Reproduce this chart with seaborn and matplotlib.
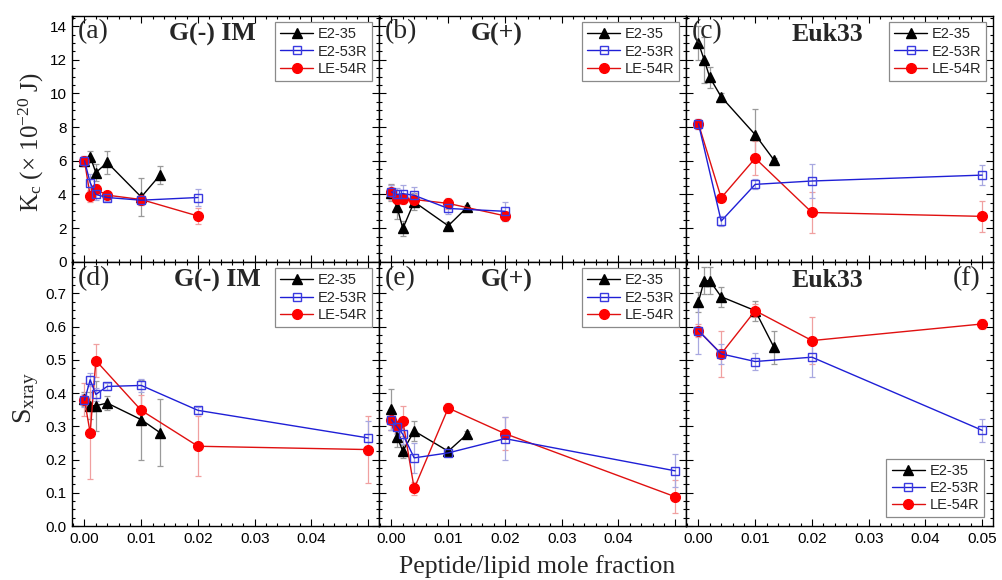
import numpy as np
import matplotlib
matplotlib.use("Agg")
import matplotlib.pyplot as plt
from matplotlib.ticker import MultipleLocator, FuncFormatter
import seaborn as sns

# ---------------- data ----------------
series_names = ["E2-35", "E2-53R", "LE-54R"]
panel_letters = ["(a)", "(b)", "(c)", "(d)", "(e)", "(f)"]
panel_titles = ["G(-) IM", "G(+)", "Euk33", "G(-) IM", "G(+)", "Euk33"]

# peptide/lipid mole fractions
x_e235 = [0.0, 0.001, 0.002, 0.004, 0.010, 0.0133]
x_full = [0.0, 0.001, 0.002, 0.004, 0.010, 0.020]
x_full50 = [0.0, 0.001, 0.002, 0.004, 0.010, 0.020, 0.050]
x_short = [0.0, 0.004, 0.010, 0.020, 0.050]
x_gneg_le = [0.0, 0.001, 0.002, 0.010, 0.020, 0.050]

# bending modulus Kc (x 1e-20 J)
kc_gneg_e235 = [6.0, 6.25, 5.3, 5.9, 3.85, 5.15]
kc_gneg_e235_err = [0.2, 0.35, 0.5, 0.7, 1.1, 0.55]
kc_gneg_e253 = [6.0, 4.7, 4.0, 3.82, 3.66, 3.82]
kc_gneg_e253_err = [0.3, 0.5, 0.3, 0.2, 0.3, 0.5]
kc_gneg_le54 = [6.0, 3.9, 4.3, 3.96, 3.7, 2.72]
kc_gneg_le54_err = [0.3, 0.35, 0.3, 0.2, 0.3, 0.5]

kc_gpos_e235 = [4.1, 3.23, 1.98, 3.56, 2.14, 3.23]
kc_gpos_e235_err = [0.5, 0.7, 0.45, 0.5, 0.25, 0.15]
kc_gpos_e253 = [4.15, 4.0, 4.05, 3.95, 3.17, 3.0]
kc_gpos_e253_err = [0.4, 0.4, 0.5, 0.5, 0.3, 0.55]
kc_gpos_le54 = [4.12, 3.72, 3.72, 3.7, 3.47, 2.73]
kc_gpos_le54_err = [0.45, 0.3, 0.3, 0.3, 0.35, 0.3]

kc_euk_e235 = [13.0, 12.0, 10.95, 9.8, 7.55, 6.05]
kc_euk_e235_err = [1.0, 1.35, 0.65, 0.2, 1.55, 0.1]
kc_euk_e253 = [8.2, 2.42, 4.6, 4.8, 5.15]
kc_euk_e253_err = [0.3, 0.3, 0.3, 1.0, 0.6]
kc_euk_le54 = [8.2, 3.8, 6.15, 2.93, 2.7]
kc_euk_le54_err = [0.3, 0.25, 1.0, 1.2, 0.9]

# chain order parameter S_xray
s_gneg_e235 = [0.382, 0.362, 0.362, 0.370, 0.320, 0.281]
s_gneg_e235_err = [0.02, 0.04, 0.075, 0.02, 0.12, 0.10]
s_gneg_e253 = [0.378, 0.44, 0.396, 0.42, 0.423, 0.348, 0.265]
s_gneg_e253_err = [0.02, 0.02, 0.02, 0.01, 0.02, 0.01, 0.05]
s_gneg_le54 = [0.38, 0.28, 0.498, 0.348, 0.24, 0.23]
s_gneg_le54_err = [0.05, 0.14, 0.05, 0.045, 0.09, 0.10]

s_gpos_e235 = [0.351, 0.268, 0.225, 0.286, 0.225, 0.276]
s_gpos_e235_err = [0.062, 0.03, 0.02, 0.03, 0.01, 0.01]
s_gpos_e253 = [0.32, 0.298, 0.276, 0.205, 0.22, 0.263, 0.166]
s_gpos_e253_err = [0.03, 0.02, 0.03, 0.045, 0.01, 0.065, 0.05]
s_gpos_le54 = [0.32, 0.30, 0.316, 0.113, 0.355, 0.278, 0.088]
s_gpos_le54_err = [0.03, 0.02, 0.045, 0.02, 0.015, 0.05, 0.05]

s_euk_e235 = [0.675, 0.738, 0.738, 0.69, 0.648, 0.538]
s_euk_e235_err = [0.03, 0.04, 0.04, 0.03, 0.03, 0.05]
s_euk_e253 = [0.588, 0.518, 0.495, 0.508, 0.288]
s_euk_e253_err = [0.07, 0.03, 0.025, 0.06, 0.035]
s_euk_le54 = [0.588, 0.518, 0.648, 0.558, 0.608]
s_euk_le54_err = [0.02, 0.07, 0.02, 0.07, 0.015]

# (x, y, err) per series for each panel, in series_names order
panels = [
    [(x_e235, kc_gneg_e235, kc_gneg_e235_err), (x_full, kc_gneg_e253, kc_gneg_e253_err), (x_full, kc_gneg_le54, kc_gneg_le54_err)],
    [(x_e235, kc_gpos_e235, kc_gpos_e235_err), (x_full, kc_gpos_e253, kc_gpos_e253_err), (x_full, kc_gpos_le54, kc_gpos_le54_err)],
    [(x_e235, kc_euk_e235, kc_euk_e235_err), (x_short, kc_euk_e253, kc_euk_e253_err), (x_short, kc_euk_le54, kc_euk_le54_err)],
    [(x_e235, s_gneg_e235, s_gneg_e235_err), (x_full50, s_gneg_e253, s_gneg_e253_err), (x_gneg_le, s_gneg_le54, s_gneg_le54_err)],
    [(x_e235, s_gpos_e235, s_gpos_e235_err), (x_full50, s_gpos_e253, s_gpos_e253_err), (x_full50, s_gpos_le54, s_gpos_le54_err)],
    [(x_e235, s_euk_e235, s_euk_e235_err), (x_short, s_euk_e253, s_euk_e253_err), (x_short, s_euk_le54, s_euk_le54_err)],
]

# ---------------- styling ----------------
sns.set_theme(style="ticks")
plt.rcParams["font.family"] = ["Liberation Sans", "DejaVu Sans"]
plt.rcParams["mathtext.fontset"] = "custom"
plt.rcParams["mathtext.rm"] = "Liberation Serif"
plt.rcParams["mathtext.it"] = "Liberation Serif:italic"

styles = {
    "E2-35": dict(color="black", marker="^", mfc="black", mec="black", ms=7.5, ecol="#9a9a9a"),
    "E2-53R": dict(color="#1f1fd6", marker="s", mfc="none", mec="#3a3ae0", ms=6.2, ecol="#a8a8e0"),
    "LE-54R": dict(color="#e01010", marker="o", mfc="#ff0000", mec="#ff0000", ms=7.0, ecol="#f0a0a0"),
}
draw_order = ["E2-35", "LE-54R", "E2-53R"]
serif = "Liberation Serif"

fig = plt.figure(figsize=(10.03, 5.8), dpi=100)
gs = fig.add_gridspec(2, 3, height_ratios=[246, 264], left=0.0718, right=0.990,
                      top=0.973, bottom=0.0931, wspace=0, hspace=0)
axes = [fig.add_subplot(gs[i // 3, i % 3]) for i in range(6)]

for i, ax in enumerate(axes):
    row, col = divmod(i, 3)
    data = panels[i]
    for name in draw_order:
        k = series_names.index(name)
        xs, ys, es = data[k]
        st = styles[name]
        ax.errorbar(xs, ys, yerr=es, fmt="none", ecolor=st["ecol"], elinewidth=0.9,
                    capsize=2.5, capthick=0.9, zorder=2)
        sns.lineplot(x=np.array(xs), y=np.array(ys), ax=ax, sort=False, estimator=None,
                     color=st["color"], marker=st["marker"], markersize=st["ms"],
                     markerfacecolor=st["mfc"], markeredgecolor=st["mec"],
                     markeredgewidth=1.0, linewidth=1.0, label=name, zorder=3)
    ax.set_xlabel("")
    ax.set_ylabel("")

    ax.set_xlim(-0.0022, 0.0519)
    ax.xaxis.set_major_locator(MultipleLocator(0.01))
    ax.xaxis.set_minor_locator(MultipleLocator(0.002))
    if row == 0:
        ax.set_ylim(0, 14.62)
        ax.yaxis.set_major_locator(MultipleLocator(2))
        ax.yaxis.set_minor_locator(MultipleLocator(0.5))
        ax.yaxis.set_major_formatter(FuncFormatter(lambda v, p: f"{v:.0f}"))
    else:
        ax.set_ylim(0, 0.795)
        ax.yaxis.set_major_locator(MultipleLocator(0.1))
        ax.yaxis.set_minor_locator(MultipleLocator(0.025))
        ax.yaxis.set_major_formatter(FuncFormatter(lambda v, p: f"{v:.1f}"))
    if col == 2:
        ax.xaxis.set_major_formatter(FuncFormatter(lambda v, p: f"{v:.2f}"))
    else:
        ax.xaxis.set_major_formatter(
            FuncFormatter(lambda v, p: "" if v > 0.045 else f"{v:.2f}"))

    ax.tick_params(which="both", direction="in", top=True, right=True,
                   colors="black", width=0.8, labelsize=11, pad=4)
    ax.tick_params(which="major", length=5)
    ax.tick_params(which="minor", length=2.5)
    ax.tick_params(axis="x", labelbottom=(row == 1))
    ax.tick_params(axis="y", labelleft=(col == 0))
    for sp in ax.spines.values():
        sp.set_color("black")
        sp.set_linewidth(1.0)

    # panel letter and lipid label
    if i == 5:
        ax.text(0.958, 0.985, panel_letters[i], transform=ax.transAxes, ha="right",
                va="top", family=serif, fontsize=20)
    else:
        ax.text(0.02, 0.985, panel_letters[i], transform=ax.transAxes, ha="left",
                va="top", family=serif, fontsize=20)
    title_x = [0.457, 0.383, 0.461, 0.475, 0.417, 0.46][i]
    ax.text(title_x, 0.972, panel_titles[i], transform=ax.transAxes, ha="center",
            va="top", family=serif, fontsize=18.5, fontweight="bold")

    handles, labels = ax.get_legend_handles_labels()
    hmap = dict(zip(labels, handles))
    leg = ax.legend([hmap[n] for n in series_names], series_names,
                    loc="lower right" if i == 5 else "upper right",
                    frameon=True, fancybox=False, edgecolor="#8a8a8a", framealpha=1,
                    fontsize=10.5, handlelength=2.3, handletextpad=0.3,
                    borderpad=0.35, labelspacing=0.22,
                    borderaxespad=0.45 if i != 5 else 0.6)
    leg.get_frame().set_linewidth(0.9)

# axis titles placed in figure pixels
W, H = 1003, 580
fig.text(31 / W, 1 - 142 / H, r"K$_{\rm c}$ (× 10$^{-20}$ J)", rotation=90,
         ha="center", va="center", family=serif, fontsize=18)
fig.text(26 / W, 1 - 398 / H, r"S$_{\rm xray}$", rotation=90,
         ha="center", va="center", family=serif, fontsize=20)
fig.text(537 / W, 1 - 567 / H, "Peptide/lipid mole fraction", ha="center",
         va="center", family=serif, fontsize=18.5)

fig.savefig("out.png", dpi=100)
